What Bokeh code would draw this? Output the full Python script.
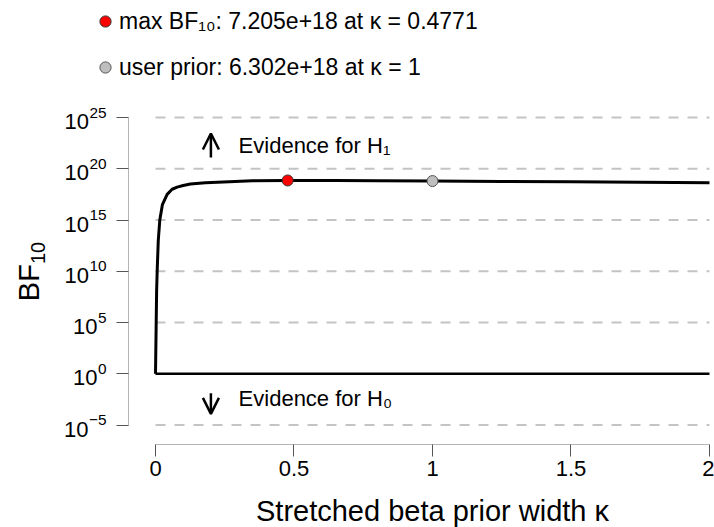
import math

from bokeh.core.properties import value
from bokeh.embed import file_html
from bokeh.models import Arrow, FixedTicker, Label, Legend, LegendItem, OpenHead, Range1d
from bokeh.plotting import figure
from bokeh.resources import INLINE

# Bayes factor robustness check: BF10 as a function of the stretched beta prior width kappa
kappa = [0, 0.001, 0.0025, 0.004, 0.006, 0.01, 0.0155, 0.025, 0.042, 0.06, 0.078,
         0.1, 0.126, 0.18, 0.245, 0.35, 0.4771, 0.65, 0.8, 1.0, 1.25, 1.5, 1.75, 2.0]
bf10 = [1, 1e2, 1e5, 1e8, 1e10, 1e13, 1e15, 3.2e16, 3.2e17, 1.0e18, 1.6e18,
        2.3e18, 3.2e18, 4.4e18, 5.2e18, 6.6e18, 7.205e18, 7.0e18, 6.7e18, 6.302e18,
        5.8e18, 5.3e18, 4.8e18, 4.4e18]

max_kappa, max_bf = 0.4771, 7.205e18
user_kappa, user_bf = 1.0, 6.302e18

x_ticks = [0, 0.5, 1, 1.5, 2]
x_tick_labels = ["0", "0.5", "1", "1.5", "2"]
y_ticks = [1e-5, 1e0, 1e5, 1e10, 1e15, 1e20, 1e25]
y_tick_exponents = ["−5", "0", "5", "10", "15", "20", "25"]
ref_levels = [1e-5, 1e5, 1e10, 1e15, 1e20, 1e25]

FONT = "Liberation Sans"
W, H = 714, 527

# The frame covers the whole canvas; the axes sit at fixed data locations
# so that they stand off from the curve area.
x_lo, x_hi = -0.5596, 2.0181
log_lo, log_hi = -15.0, 36.415
y_axis_at = -0.0975          # kappa where the y axis line is drawn
x_axis_at = 10 ** -6.902     # BF where the x axis line is drawn

p = figure(width=W, height=H, y_axis_type="log",
           x_range=Range1d(x_lo, x_hi), y_range=Range1d(10 ** log_lo, 10 ** log_hi),
           output_backend="svg", toolbar_location=None,
           min_border_left=0, min_border_right=0, min_border_top=0, min_border_bottom=0)
p.outline_line_color = None
p.xgrid.visible = False
p.ygrid.visible = False
p.background_fill_color = "white"
p.border_fill_color = "white"

# dashed reference levels
p.segment(x0=[x_ticks[0]] * len(ref_levels), x1=[x_ticks[-1]] * len(ref_levels),
          y0=ref_levels, y1=ref_levels, line_color="#c4c4c4", line_width=2,
          line_dash="10 9")
# BF10 = 1 reference
p.segment(x0=[x_ticks[0]], x1=[x_ticks[-1]], y0=[1], y1=[1],
          line_color="black", line_width=2.5)

p.line(kappa, bf10, line_color="black", line_width=3, line_join="round")

r_max = p.scatter([max_kappa], [max_bf], size=11, fill_color="#ff0000",
                  line_color="#333333", line_width=1)
r_user = p.scatter([user_kappa], [user_bf], size=11, fill_color="#bebebe",
                   line_color="#555555", line_width=1)

legend = Legend(items=[
    LegendItem(label=f"max BF₁₀: {max_bf:.3e} at κ = {max_kappa}", renderers=[r_max]),
    LegendItem(label=f"user prior: {user_bf:.3e} at κ = {user_kappa:g}", renderers=[r_user]),
], location=(91, 446), glyph_width=28, glyph_height=28, label_standoff=0,
    spacing=18, padding=0, margin=0, label_text_font=FONT,
    label_text_font_size="23px", label_text_color="black",
    background_fill_alpha=0, border_line_alpha=0)
p.add_layout(legend)

# evidence annotations
head = dict(size=16, line_width=2.5)
p.add_layout(Arrow(end=OpenHead(**head), x_start=0.2, y_start=10 ** 21.1,
                   x_end=0.2, y_end=10 ** 23.44, line_width=2.5))
p.add_layout(Arrow(end=OpenHead(**head), x_start=0.2, y_start=10 ** -1.9,
                   x_end=0.2, y_end=10 ** -3.91, line_width=2.5))
p.add_layout(Label(x=0.3, y=10 ** 22.27, text="Evidence for H₁", text_font=FONT,
                   text_font_size="22px", text_baseline="middle", text_color="black"))
p.add_layout(Label(x=0.3, y=10 ** -2.4, text="Evidence for H₀", text_font=FONT,
                   text_font_size="22px", text_baseline="middle", text_color="black"))

xa = p.xaxis[0]
xa.fixed_location = x_axis_at
xa.ticker = FixedTicker(ticks=x_ticks)
xa.major_label_overrides = dict(zip(x_ticks, x_tick_labels))
xa.bounds = (x_ticks[0], x_ticks[-1])

ya = p.yaxis[0]
ya.fixed_location = y_axis_at
ya.ticker = FixedTicker(ticks=y_ticks)
ya.major_label_overrides = {t: "" for t in y_ticks}
ya.bounds = (y_ticks[0], y_ticks[-1])

for ax in (xa, ya):
    ax.axis_line_color = "#b5b5b5"
    ax.axis_line_width = 1
    ax.major_tick_line_color = "#555555"
    ax.major_tick_out = 12
    ax.major_tick_in = 0
    ax.minor_tick_line_color = None
    ax.major_label_text_font = FONT
    ax.major_label_text_font_size = "22px"
    ax.major_label_text_color = "black"
    ax.major_label_standoff = 5

# y tick labels written as 10 with a raised exponent
BASE_PX, SUP_PX = 22, 15.4
gap = 12 + 10  # tick length + standoff
sup_w = [sum(0.584 if c == "−" else 0.556 for c in e) * SUP_PX + 0.5 for e in y_tick_exponents]
n = len(y_ticks)
p.text(x=[y_axis_at] * n, y=y_ticks, text=["10"] * n,
       x_offset=[-(gap + w) for w in sup_w], y_offset=4,
       text_align="right", text_baseline="middle",
       text_font=value(FONT), text_font_size=value(f"{BASE_PX}px"), text_color="black")
p.text(x=[y_axis_at] * n, y=y_ticks, text=y_tick_exponents,
       x_offset=-gap, y_offset=-5,
       text_align="right", text_baseline="middle",
       text_font=value(FONT), text_font_size=value(f"{SUP_PX}px"), text_color="black")

# axis titles
p.add_layout(Label(x=(x_ticks[0] + x_ticks[-1]) / 2, y=17, y_units="screen",
                   text="Stretched beta prior width κ", text_font=FONT,
                   text_font_size="29px", text_align="center", text_baseline="middle",
                   text_color="black"))

# y title: "BF" with a lowered, smaller "10", reading upwards and centred on the axis
TITLE_PX, SUB_PX = 29, 20
bf_w = 1.278 * TITLE_PX
sub_w = 2 * 0.556 * SUB_PX
y_mid_screen = H - 271
bf_start = y_mid_screen - (bf_w + sub_w) / 2
p.add_layout(Label(x=28, x_units="screen", y=bf_start, y_units="screen",
                   text="BF", angle=math.pi / 2, text_font=FONT,
                   text_font_size=f"{TITLE_PX}px", text_align="left",
                   text_baseline="middle", text_color="black"))
p.add_layout(Label(x=37, x_units="screen", y=bf_start + bf_w, y_units="screen",
                   text="10", angle=math.pi / 2, text_font=FONT,
                   text_font_size=f"{SUB_PX}px", text_align="left",
                   text_baseline="middle", text_color="black"))

open("out.html", "w").write(file_html(p, INLINE))
